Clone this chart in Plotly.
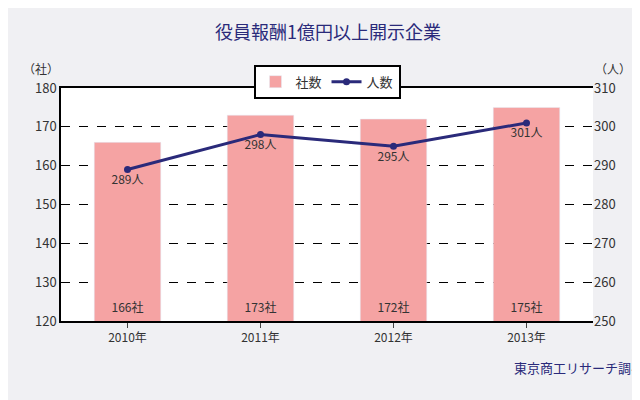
import plotly.graph_objects as go

years = ["2010年", "2011年", "2012年", "2013年"]
companies = [166, 173, 172, 175]
people = [289, 298, 295, 301]
company_text = ["166社", "173社", "172社", "175社"]
people_text = ["289人", "298人", "295人", "301人"]

font = "Noto Sans CJK JP"
navy = "#2a2a7a"

fig = go.Figure()
fig.add_trace(go.Bar(
    x=years, y=companies, name="社数", marker_color="#f5a3a3", width=0.5,
))
fig.add_trace(go.Scatter(
    x=years, y=[123] * len(years), mode="text", text=company_text,
    textposition="middle center", textfont=dict(color="#333", size=12),
    showlegend=False, hoverinfo="skip",
))
fig.add_trace(go.Scatter(
    x=years, y=people, name="人数", yaxis="y2", mode="lines+markers+text",
    line=dict(color=navy, width=3), marker=dict(size=7, color=navy),
    text=people_text, textposition="bottom center",
    textfont=dict(color="#333", size=12),
))
fig.update_layout(
    width=640, height=400, margin=dict(l=53, r=55, t=80, b=87),
    paper_bgcolor="#f0f0f3", plot_bgcolor="white",
    font=dict(family=font, size=12, color="#333"),
    title=dict(text="役員報酬1億円以上開示企業", x=0.5, y=0.955,
               font=dict(size=18, color=navy)),
    showlegend=True,
    legend=dict(orientation="h", x=0.5, xanchor="center", y=1.1, yanchor="top",
                bgcolor="white", bordercolor="black", borderwidth=2,
                font=dict(size=13)),
    xaxis=dict(showline=True, linecolor="black", linewidth=1.5, mirror=True,
               ticks="outside", tickfont=dict(size=12)),
    yaxis=dict(range=[120, 180], dtick=10, showgrid=True, gridcolor="black",
               griddash="dash", showline=True, linecolor="black", linewidth=1.5,
               tickfont=dict(size=13)),
    yaxis2=dict(range=[250, 310], dtick=10, overlaying="y", side="right",
                showgrid=False, tickfont=dict(size=13)),
    annotations=[
        dict(text="（社）", x=0, xref="paper", xanchor="right", y=1.13, yref="paper",
             showarrow=False, font=dict(size=12)),
        dict(text="（人）", x=1, xref="paper", xanchor="left", y=1.13, yref="paper",
             showarrow=False, font=dict(size=12)),
        dict(text="東京商工リサーチ調べ", x=1.1, xref="paper", xanchor="right",
             y=-0.25, yref="paper", showarrow=False,
             font=dict(size=13, color=navy)),
    ],
)
fig.write_html("out.html")
